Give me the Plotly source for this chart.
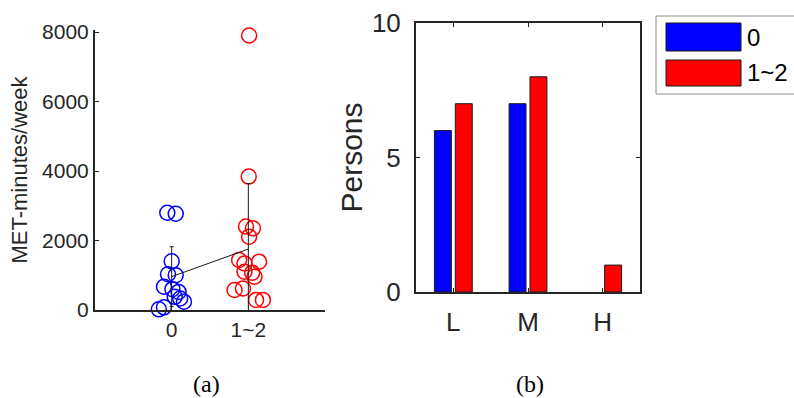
import plotly.graph_objects as go

# ---------------- data ----------------
# panel (a): MET-minutes/week per person
group_labels = ["0", "1~2"]
met_group0 = [2800, 2770, 1400, 1030, 1000, 670, 600, 520, 380, 330, 240, 77, 19]
jitter_group0 = [-0.057, 0.053, 0.0, -0.048, 0.053, -0.10, 0.01, 0.09, 0.04, 0.11, 0.16, -0.10, -0.167]
met_group1 = [7900, 3840, 2400, 2350, 2110, 1440, 1390, 1340, 1100, 1075, 960, 620, 575, 290, 290]
jitter_group1 = [0.01, 0.005, -0.03, 0.06, 0.01, -0.12, 0.14, -0.05, -0.05, 0.05, 0.08, -0.07, -0.18, 0.10, 0.19]
group_means = [960, 1755]
group_sds = [862, 1885]

# panel (b): persons per activity level
levels = ["L", "M", "H"]
persons_0 = [6, 7, 0]
persons_12 = [7, 8, 1]
series_names = ["0", "1~2"]
series_colors = ["#0000FF", "#FF0000"]

AX = "#262626"
SANS = "Liberation Sans, Arial, sans-serif"
SERIF = "Liberation Serif, DejaVu Serif, serif"

W, H = 794, 398
def px(x):
    return x / W
def py(y):
    return 1 - y / H

fig = go.Figure()

# ---- panel (a) ----
fig.add_trace(go.Scatter(
    x=[1 + j for j in jitter_group0], y=met_group0, mode="markers", cliponaxis=False,
    marker=dict(symbol="circle-open", size=15, color=series_colors[0], line=dict(width=1.5, color=series_colors[0])),
    xaxis="x", yaxis="y", showlegend=False, hoverinfo="y"))
fig.add_trace(go.Scatter(
    x=[2 + j for j in jitter_group1], y=met_group1, mode="markers", cliponaxis=False,
    marker=dict(symbol="circle-open", size=15, color=series_colors[1], line=dict(width=1.5, color=series_colors[1])),
    xaxis="x", yaxis="y", showlegend=False, hoverinfo="y"))
fig.add_trace(go.Scatter(
    x=[1, 2], y=group_means, mode="lines", cliponaxis=False,
    line=dict(color="#1a1a1a", width=1),
    error_y=dict(type="data", array=group_sds, visible=True, color="#1a1a1a", thickness=1, width=2),
    xaxis="x", yaxis="y", showlegend=False))

# ---- panel (b) ----
fig.add_trace(go.Bar(
    x=levels, y=persons_0, name=series_names[0],
    marker=dict(color=series_colors[0],
                line=dict(color="#1a1a1a", width=[1 if v > 0 else 0 for v in persons_0])),
    xaxis="x2", yaxis="y2", showlegend=False))
fig.add_trace(go.Bar(
    x=levels, y=persons_12, name=series_names[1],
    marker=dict(color=series_colors[1],
                line=dict(color="#1a1a1a", width=[1 if v > 0 else 0 for v in persons_12])),
    xaxis="x2", yaxis="y2", showlegend=False))

fig.update_layout(
    width=W, height=H, autosize=False,
    margin=dict(l=0, r=0, t=0, b=0, autoexpand=False),
    paper_bgcolor="white", plot_bgcolor="white",
    barmode="group", bargap=0.44, bargroupgap=0.19,
    font=dict(family=SANS, color=AX),
    xaxis=dict(
        domain=[px(95), px(325)], range=[0, 3],
        tickmode="array", tickvals=[1, 2], ticktext=group_labels,
        showline=True, linecolor=AX, linewidth=2, mirror=False,
        ticks="inside", ticklen=4, tickcolor=AX, tickwidth=1,
        showgrid=False, zeroline=False, automargin=False,
        tickfont=dict(size=21, color=AX, family=SANS),
        anchor="y"),
    yaxis=dict(
        domain=[py(310), py(30)], range=[0, 8058],
        tickmode="array", tickvals=[0, 2000, 4000, 6000, 8000],
        showline=True, linecolor=AX, linewidth=2, mirror=False,
        ticks="inside", ticklen=4, tickcolor=AX, tickwidth=1,
        showgrid=False, zeroline=False, automargin=False,
        tickfont=dict(size=21, color=AX, family=SANS),
        title=dict(text="MET-minutes/week", font=dict(size=22, color=AX, family=SANS), standoff=8),
        anchor="x"),
    xaxis2=dict(
        domain=[px(416), px(640)], range=[-0.5, 2.5],
        type="category",
        showline=True, linecolor=AX, linewidth=2, mirror="ticks",
        ticks="inside", ticklen=4, tickcolor=AX, tickwidth=1,
        showgrid=False, zeroline=False, automargin=False,
        tickfont=dict(size=26, color=AX, family=SANS),
        ticklabelstandoff=6,
        anchor="y2"),
    yaxis2=dict(
        domain=[py(292), py(23)], range=[0, 10],
        tickmode="array", tickvals=[0, 5, 10],
        showline=True, linecolor=AX, linewidth=2, mirror="ticks",
        ticks="inside", ticklen=4, tickcolor=AX, tickwidth=1,
        showgrid=False, zeroline=False, automargin=False,
        tickfont=dict(size=26, color=AX, family=SANS),
        ticklabelstandoff=8,
        title=dict(text="Persons", font=dict(size=30, color=AX, family=SANS), standoff=0),
        anchor="x2"),
)

# ---- legend drawn as a MATLAB-style box ----
shapes = [dict(type="rect", xref="paper", yref="paper",
               x0=px(656), x1=px(800), y0=py(94), y1=py(16),
               line=dict(color="#8c8c8c", width=1), fillcolor="white", layer="above")]
annotations = []
sw_rows = [(23, 51), (60, 86)]
for (t, b), name, col in zip(sw_rows, series_names, series_colors):
    shapes.append(dict(type="rect", xref="paper", yref="paper",
                       x0=px(666), x1=px(741), y0=py(b), y1=py(t),
                       line=dict(color="#1a1a1a", width=1), fillcolor=col, layer="above"))
    annotations.append(dict(xref="paper", yref="paper", x=px(745), y=py((t + b) / 2),
                            text=name, showarrow=False, xanchor="left", yanchor="middle",
                            font=dict(size=24, color="#000000", family=SANS)))

# ---- panel captions ----
annotations.append(dict(xref="paper", yref="paper", x=px(206), y=py(384), text="(a)",
                        showarrow=False, xanchor="center", yanchor="middle",
                        font=dict(size=24, color="#000000", family=SERIF)))
annotations.append(dict(xref="paper", yref="paper", x=px(530), y=py(384), text="(b)",
                        showarrow=False, xanchor="center", yanchor="middle",
                        font=dict(size=24, color="#000000", family=SERIF)))

fig.update_layout(shapes=shapes, annotations=annotations)
fig.write_html("out.html", config={"displayModeBar": False},
               post_script="document.body.style.margin='0px';document.body.style.overflow='hidden';")
